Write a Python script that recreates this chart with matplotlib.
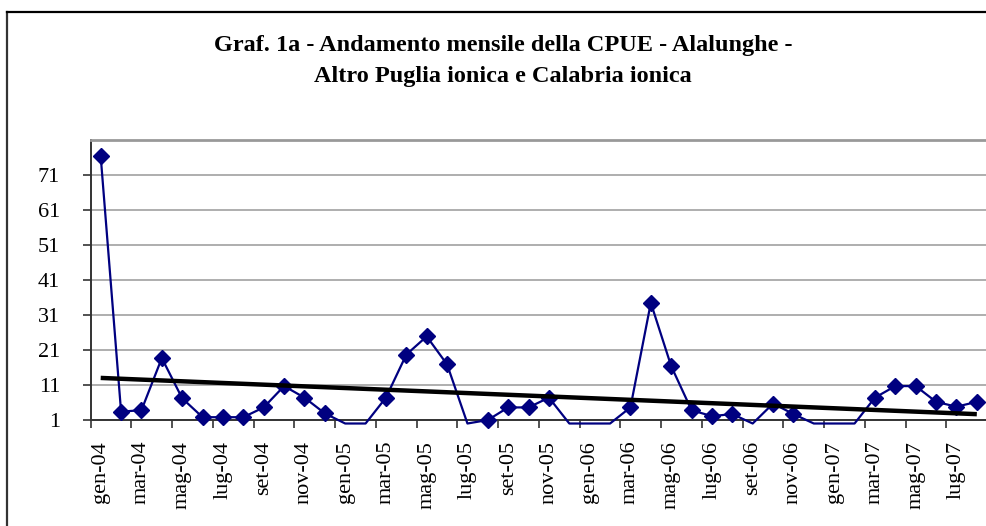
#
# Monthly CPUE line chart with linear trend (Alalunghe, 2004-2007).
#

import matplotlib
matplotlib.use('Agg')
import matplotlib.pyplot as plt
from matplotlib.lines import Line2D
import numpy as np

plt.rcParams['font.family'] = ['Liberation Serif', 'DejaVu Serif']

month_names = ['gen', 'feb', 'mar', 'apr', 'mag', 'giu',
               'lug', 'ago', 'set', 'ott', 'nov', 'dic']
years = ['04', '05', '06', '07']
months = [m + '-' + y for y in years for m in month_names][:44]

cpue = [76.4, 3.4, 3.8, 18.7, 7.2, 1.8, 1.8, 1.8, 4.6, 10.7, 7.4, 2.9,
        0, 0, 7.4, 19.7, 24.9, 16.9, 0, 1.0, 4.6, 4.6, 7.4, 0,
        0, 0, 4.6, 34.5, 16.4, 3.8, 2.1, 2.7, 0, 5.7, 2.7, 0,
        0, 0, 7.4, 10.7, 10.7, 6.2, 4.8, 6.2]

y_ticks = [1, 11, 21, 31, 41, 51, 61, 71]

title = ('Graf. 1a - Andamento mensile della CPUE - Alalunghe -\n'
         'Altro Puglia ionica e Calabria ionica')

x = np.arange(len(months))
vals = np.array(cpue, dtype=float)

fig = plt.figure(figsize=(9.87, 5.26), dpi=100)
ax = fig.add_axes([0.0917, 0.2015, 0.9083, 0.532])

# outer chart frame (left and top edges only are visible)
fig.add_artist(Line2D([7 / 987, 7 / 987], [0, 1 - 11.5 / 526], color='#333333', lw=1.6))
fig.add_artist(Line2D([7 / 987, 1], [1 - 11.5 / 526, 1 - 11.5 / 526], color='black', lw=1.6))

fig.text(0.51, 1 - 61 / 526, title, ha='center', va='center',
         fontsize=17.5, fontweight='bold', linespacing=1.65)

# series line (zeros dip just under the axis like the original)
ax.plot(x, vals, color='#000080', lw=1.6, clip_on=False, zorder=3)
shown = np.where(vals >= 1, vals, np.nan)
ax.plot(x, shown, linestyle='none', marker='D', markersize=8.5,
        color='#000080', clip_on=False, zorder=4)

# linear trend
coef = np.polyfit(x, vals, 1)
ax.plot(x[[0, -1]], np.polyval(coef, x[[0, -1]]), color='black', lw=3.2,
        solid_capstyle='butt', zorder=5)

ax.set_xlim(-0.5, len(months) - 0.5)
ax.set_ylim(1, 81)
ax.set_yticks(y_ticks)
ax.yaxis.grid(True, color='#999999', lw=1.1)
ax.set_axisbelow(True)

ax.set_xticks(np.arange(-0.5, len(months), 2))
ax.set_xticklabels([])
ax.set_xticks(x[::2], minor=True)
ax.set_xticklabels(months[::2], minor=True, rotation=90, fontsize=16)
ax.tick_params(axis='x', which='minor', length=0, pad=15)
ax.tick_params(axis='x', which='major', length=5.5, width=1.2, color='#333333', direction='out')
ax.tick_params(axis='y', length=5.8, width=1.2, color='#333333', labelsize=16, pad=16)

ax.spines['left'].set_color('#333333')
ax.spines['left'].set_linewidth(1.4)
ax.spines['bottom'].set_color('#333333')
ax.spines['bottom'].set_linewidth(1.4)
ax.spines['top'].set_color('#999999')
ax.spines['top'].set_linewidth(2)
ax.spines['right'].set_visible(False)

fig.savefig('out.png', dpi=100)
